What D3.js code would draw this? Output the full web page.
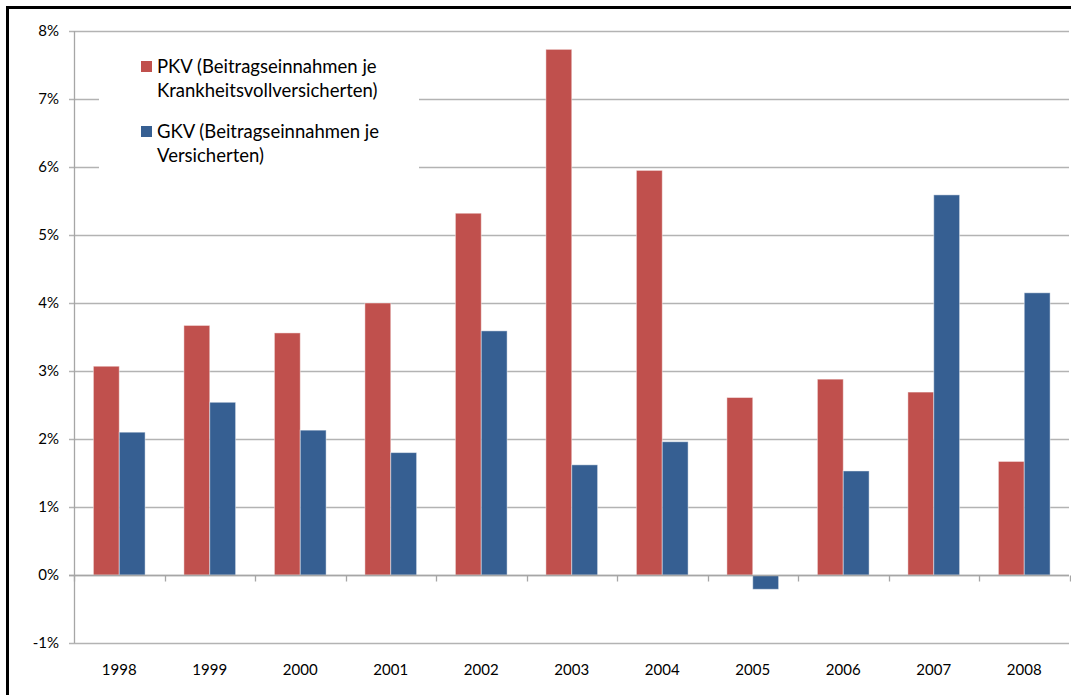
<!DOCTYPE html>
<html lang="de">
<head>
    <meta charset="UTF-8">
    <title>Beitragseinnahmen PKV / GKV</title>
    <script src="https://d3js.org/d3.v7.min.js"></script>
    <style>
        body {
            margin: 0;
            background: #fff;
            font-family: Lato, "Open Sans", sans-serif;
        }
        .grid line {
            stroke: #b3b3b3;
            stroke-width: 1.3px;
        }
        .axis-label {
            font-size: 15px;
            fill: #000;
        }
        .legend text {
            font-size: 18.5px;
            fill: #000;
        }
    </style>
</head>
<body>
    <div id="chart"></div>

    <script>
        const years = ["1998", "1999", "2000", "2001", "2002", "2003", "2004", "2005", "2006", "2007", "2008"];
        const seriesNames = ["PKV", "GKV"];
        const pkv = [3.07, 3.67, 3.56, 4.00, 5.32, 7.73, 5.95, 2.61, 2.88, 2.69, 1.67];
        const gkv = [2.10, 2.54, 2.13, 1.80, 3.59, 1.62, 1.96, -0.21, 1.53, 5.59, 4.15];
        const yTicks = [-1, 0, 1, 2, 3, 4, 5, 6, 7, 8];
        const legendLines = [
            ["PKV (Beitragseinnahmen je", "Krankheitsvollversicherten)"],
            ["GKV (Beitragseinnahmen je", "Versicherten)"]
        ];
        const colors = ["#c0504d", "#365f92"];

        const width = 1071;
        const height = 695;

        const svg = d3.select("#chart")
            .append("svg")
            .attr("width", width)
            .attr("height", height);

        // frame (only top and left visible in the crop)
        svg.append("rect")
            .attr("x", 7.5)
            .attr("y", 7.5)
            .attr("width", width + 20)
            .attr("height", height + 20)
            .attr("fill", "none")
            .attr("stroke", "#000")
            .attr("stroke-width", 3);

        const x0 = d3.scaleBand()
            .domain(years)
            .range([74, 1069.5]);

        const x1 = d3.scaleBand()
            .domain(seriesNames)
            .range([0, x0.bandwidth()])
            .paddingOuter(0.75);

        const y = d3.scaleLinear()
            .domain([-1, 8])
            .range([643, 31]);

        // gridlines + y tick marks
        const grid = svg.append("g").attr("class", "grid");
        grid.selectAll("line")
            .data(yTicks)
            .enter()
            .append("line")
            .attr("x1", 69)
            .attr("x2", 1069)
            .attr("y1", d => Math.round(y(d)) + 0.5)
            .attr("y2", d => Math.round(y(d)) + 0.5);

        // y axis line
        svg.append("line")
            .attr("x1", 74.5).attr("x2", 74.5)
            .attr("y1", y(8)).attr("y2", y(-1))
            .attr("stroke", "#a6a6a6")
            .attr("stroke-width", 1.3);

        // y labels
        svg.append("g")
            .selectAll("text")
            .data(yTicks)
            .enter()
            .append("text")
            .attr("class", "axis-label")
            .attr("x", 59)
            .attr("y", d => y(d) + 5)
            .attr("text-anchor", "end")
            .text(d => d + "%");

        // legend (white box hides gridlines behind it)
        const legend = svg.append("g").attr("class", "legend");
        legend.append("rect")
            .attr("x", 99)
            .attr("y", 42)
            .attr("width", 320)
            .attr("height", 138)
            .attr("fill", "#fff");

        const entry = legend.selectAll(".entry")
            .data(legendLines)
            .enter()
            .append("g")
            .attr("class", "entry")
            .attr("transform", (d, i) => `translate(141,${61 + i * 65})`);

        entry.append("rect")
            .attr("width", 11)
            .attr("height", 11)
            .attr("fill", (d, i) => colors[i]);

        entry.append("text")
            .attr("x", 16)
            .attr("y", 12)
            .selectAll("tspan")
            .data(d => d)
            .enter()
            .append("tspan")
            .attr("x", 16)
            .attr("dy", (d, i) => i === 0 ? 0 : 24)
            .text(d => d);

        // bars
        const groups = svg.append("g")
            .selectAll("g")
            .data(years.map((yr, i) => ({ year: yr, values: [pkv[i], gkv[i]] })))
            .enter()
            .append("g")
            .attr("transform", d => `translate(${x0(d.year)},0)`);

        groups.selectAll("rect")
            .data(d => d.values.map((v, i) => ({ key: seriesNames[i], v: v, i: i })))
            .enter()
            .append("rect")
            .attr("x", d => x1(d.key))
            .attr("width", x1.bandwidth())
            .attr("y", d => y(Math.max(0, d.v)))
            .attr("height", d => Math.abs(y(d.v) - y(0)))
            .attr("fill", d => colors[d.i])
            .attr("stroke", "#fff")
            .attr("stroke-opacity", 0.45)
            .attr("stroke-width", 1);

        // x axis (zero line) with category ticks
        const zeroY = Math.round(y(0)) + 0.5;
        svg.append("line")
            .attr("x1", 69).attr("x2", 1069)
            .attr("y1", zeroY).attr("y2", zeroY)
            .attr("stroke", "#a6a6a6")
            .attr("stroke-width", 1.3);

        svg.append("g")
            .selectAll("line")
            .data(years.concat(["end"]))
            .enter()
            .append("line")
            .attr("x1", (d, i) => Math.round(x0.range()[0] + i * x0.step()) + 0.5)
            .attr("x2", (d, i) => Math.round(x0.range()[0] + i * x0.step()) + 0.5)
            .attr("y1", zeroY)
            .attr("y2", zeroY + 6)
            .attr("stroke", "#a6a6a6")
            .attr("stroke-width", 1.3);

        // x labels
        svg.append("g")
            .selectAll("text")
            .data(years)
            .enter()
            .append("text")
            .attr("class", "axis-label")
            .attr("x", d => x0(d) + x0.bandwidth() / 2)
            .attr("y", 675)
            .attr("text-anchor", "middle")
            .text(d => d);
    </script>
</body>
</html>
